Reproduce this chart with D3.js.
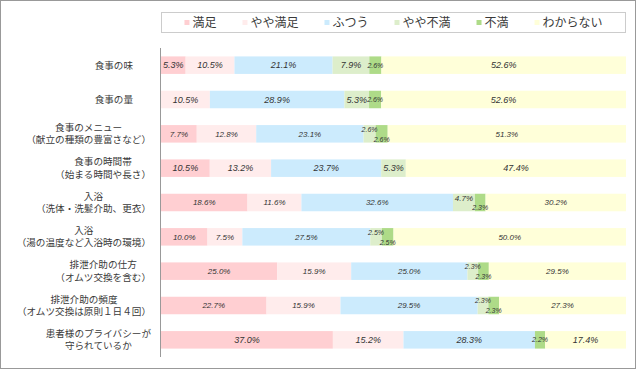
<!DOCTYPE html>
<html>
<head>
<meta charset="utf-8">
<script src="https://cdn.jsdelivr.net/npm/d3@7"></script>
<style>
  body { margin: 0; background: #fff; }
  svg { display: block; }
</style>
</head>
<body>
<div id="viz"></div>
<script>
// data
const categories = [
  ["食事の味"],
  ["食事の量"],
  ["食事のメニュー", "（献立の種類の豊富さなど）"],
  ["食事の時間帯", "（始まる時間や長さ）"],
  ["入浴", "（洗体・洗髪介助、更衣）"],
  ["入浴", "（湯の温度など入浴時の環境）"],
  ["排泄介助の仕方", "（オムツ交換を含む）"],
  ["排泄介助の頻度", "（オムツ交換は原則１日４回）"],
  ["患者様のプライバシーが", "守られているか"]
];
const seriesNames = ["満足", "やや満足", "ふつう", "やや不満", "不満", "わからない"];
const seriesColors = ["#FFCFD2", "#FFECEC", "#CCEBFD", "#DDEECB", "#AEDB88", "#FFFFD9"];

const satisfied            = [5.3, 0, 7.7, 10.5, 18.6, 10.0, 25.0, 22.7, 37.0];
const somewhatSatisfied    = [10.5, 10.5, 12.8, 13.2, 11.6, 7.5, 15.9, 15.9, 15.2];
const neutral              = [21.1, 28.9, 23.1, 23.7, 32.6, 27.5, 25.0, 29.5, 28.3];
const somewhatDissatisfied = [7.9, 5.3, 2.6, 5.3, 4.7, 2.5, 2.3, 2.3, 0];
const dissatisfied         = [2.6, 2.6, 2.6, 0, 2.3, 2.5, 2.3, 2.3, 2.2];
const unknown              = [52.6, 52.6, 51.3, 47.4, 30.2, 50.0, 29.5, 27.3, 17.4];

const seriesValues = [satisfied, somewhatSatisfied, neutral, somewhatDissatisfied, dissatisfied, unknown];

const W = 640, H = 370;
const plot = {left: 161, right: 626, top: 48, bottom: 357};
const labelFont = "'Noto Sans CJK JP', 'Noto Sans', sans-serif";
const valueFont = "'Liberation Sans', Arial, sans-serif";

const svg = d3.select("#viz").append("svg")
    .attr("width", W)
    .attr("height", H);

// outer frame
svg.append("rect")
    .attr("x", 0.5).attr("y", 0.5)
    .attr("width", 635).attr("height", 368)
    .attr("fill", "#fff")
    .attr("stroke", "#999");

// build rows for d3.stack (100% stacked)
const rows = categories.map((c, i) => {
  const r = {idx: i};
  seriesNames.forEach((s, j) => r[s] = seriesValues[j][i]);
  return r;
});

const stacked = d3.stack()
    .keys(seriesNames)
    .offset(d3.stackOffsetExpand)(rows);

const x = d3.scaleLinear().domain([0, 1]).range([plot.left, plot.right]);
const y = d3.scaleBand()
    .domain(d3.range(categories.length))
    .range([plot.top, plot.bottom])
    .paddingInner(0.49)
    .paddingOuter(0.245);

const color = d3.scaleOrdinal().domain(seriesNames).range(seriesColors);

// bars
const layer = svg.append("g").selectAll("g")
  .data(stacked).enter()
  .append("g")
    .attr("fill", d => color(d.key));

layer.selectAll("rect")
  .data(d => d.filter(p => p.data[d.key] > 0))
  .enter().append("rect")
    .attr("x", p => x(p[0]))
    .attr("y", p => y(p.data.idx))
    .attr("width", p => x(p[1]) - x(p[0]))
    .attr("height", y.bandwidth());

// value labels; the two small "dissatisfied" labels are pushed up / down when crowded
const labels = [];
stacked.forEach(s => {
  s.forEach(p => {
    const v = p.data[s.key];
    if (!(v > 0)) return;
    const r = p.data;
    const crowded = r["やや不満"] > 0 && r["やや不満"] < 5 && r["不満"] > 0;
    let dy = 0;
    if (crowded && s.key === "やや不満") dy = -4.5;
    if (crowded && s.key === "不満") dy = 5.5;
    labels.push({
      text: v.toFixed(1) + "%",
      cx: (x(p[0]) + x(p[1])) / 2,
      cy: y(r.idx) + y.bandwidth() / 2 + dy,
      size: v < 3 ? 7 : (crowded ? 8 : 9)
    });
  });
});

svg.append("g").selectAll("text")
  .data(labels).enter()
  .append("text")
    .attr("x", d => d.cx)
    .attr("y", d => d.cy)
    .attr("dy", "0.35em")
    .attr("text-anchor", "middle")
    .attr("font-family", valueFont)
    .attr("font-style", "italic")
    .attr("font-size", d => d.size)
    .attr("fill", "#333")
    .text(d => d.text);

// axis line
svg.append("line")
    .attr("x1", 160.5).attr("x2", 160.5)
    .attr("y1", plot.top).attr("y2", plot.bottom)
    .attr("stroke", "#999");

// category labels, lines centred within each block, block right aligned
const catG = svg.append("g")
    .attr("font-family", labelFont)
    .attr("font-size", 9.6)
    .attr("fill", "#3a3a3a");

categories.forEach((lines, i) => {
  const cy = y(i) + y.bandwidth() / 2;
  const g = catG.append("g");
  const texts = g.selectAll("text")
    .data(lines).enter()
    .append("text")
      .attr("y", (d, k) => cy + (k - (lines.length - 1) / 2) * 12.5)
      .attr("dy", "0.35em")
      .attr("text-anchor", "middle")
      .text(d => d);
  let maxW = 0;
  texts.each(function() { maxW = Math.max(maxW, this.getComputedTextLength()); });
  const rightEdge = lines.length > 1 ? 151 : 133;
  texts.attr("x", rightEdge - maxW / 2);
});

// legend
const legendBox = {x: 161.5, y: 12.5, w: 464, h: 20};
svg.append("rect")
    .attr("x", legendBox.x).attr("y", legendBox.y)
    .attr("width", legendBox.w).attr("height", legendBox.h)
    .attr("fill", "#fff")
    .attr("stroke", "#ccc");

const legend = svg.append("g")
    .attr("font-family", labelFont)
    .attr("font-size", 12)
    .attr("fill", "#3a3a3a");

const items = legend.selectAll("g")
  .data(seriesNames).enter()
  .append("g");

items.append("rect")
    .attr("width", 5).attr("height", 5)
    .attr("y", legendBox.y + legendBox.h / 2 - 2.5)
    .attr("fill", d => color(d));

items.append("text")
    .attr("x", 8)
    .attr("y", legendBox.y + legendBox.h / 2)
    .attr("dy", "0.35em")
    .text(d => d);

const gap = 26;
const widths = [];
items.select("text").each(function() { widths.push(8 + this.getComputedTextLength()); });
const total = d3.sum(widths) + gap * (widths.length - 1);
let cur = legendBox.x + legendBox.w / 2 - total / 2;
items.attr("transform", (d, i) => {
  const t = "translate(" + cur + ",0)";
  cur += widths[i] + gap;
  return t;
});
</script>
</body>
</html>
